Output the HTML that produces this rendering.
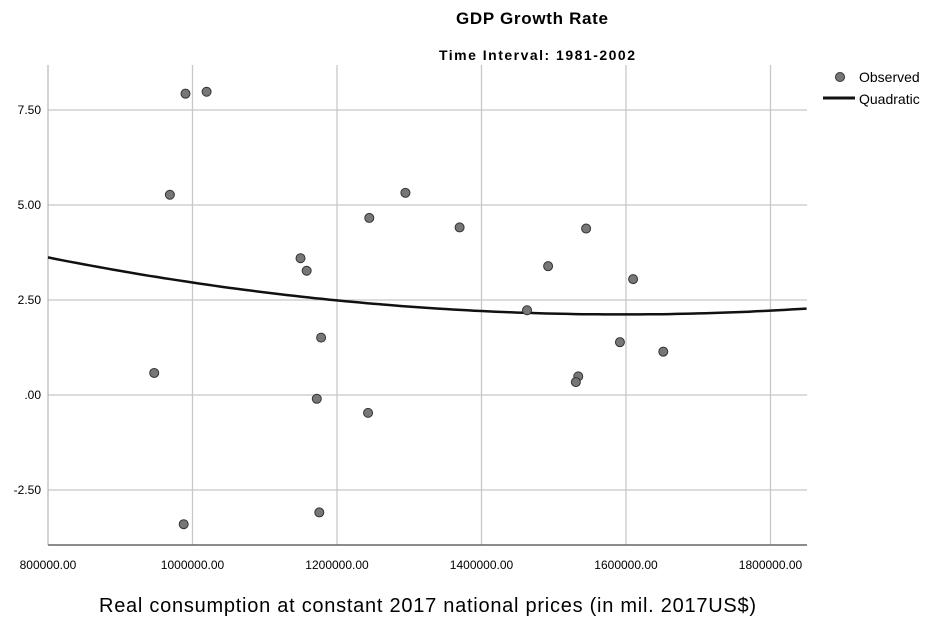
<!DOCTYPE html>
<html><head><meta charset="utf-8"><style>
body{margin:0;background:#fff;}
svg{display:block;font-family:"Liberation Sans",sans-serif;}
</style></head><body>
<svg id="chart" width="945" height="618">
<text x="532" y="24" text-anchor="middle" font-size="17" font-weight="bold" textLength="152">GDP Growth Rate</text>
<text x="537" y="60" text-anchor="middle" font-size="14" font-weight="bold" textLength="196">Time Interval: 1981-2002</text>
<g id="grid"></g><g id="curve"></g><g id="pts"></g><g id="ticks"></g>
<text x="99" y="612" font-size="20" textLength="657">Real consumption at constant 2017 national prices (in mil. 2017US$)</text>
<g>
<circle cx="840" cy="77" r="4.5" fill="#777" stroke="#333"/>
<text x="859" y="82" font-size="14">Observed</text>
<line x1="823" y1="98" x2="855" y2="98" stroke="#111" stroke-width="3"/>
<text x="859" y="104" font-size="14">Quadratic</text>
</g>
</svg>
<script>
const xVals=[990300,1019500,968700,1244700,1294700,1369700,1544800,1149500,1158000,1492200,1609800,1463000,1178000,1591600,1651600,947000,1533900,1530600,1172000,1243000,1175500,987800];
const yVals=[7.93,7.98,5.27,4.66,5.32,4.41,4.38,3.60,3.27,3.39,3.05,2.23,1.51,1.39,1.14,0.58,0.49,0.34,-0.10,-0.47,-3.09,-3.40];
const xTicks=[800000,1000000,1200000,1400000,1600000,1800000];
const yTicks=[-2.5,0,2.5,5,7.5];
const yTickLabels=["-2.50",".00","2.50","5.00","7.50"];
const quadCoef=[3.62,-0.3775,0.02375];
const L=48,R=807,T=65,B=545;
const sx=v=>L+(v-800000)/200000*144.5;
const sy=v=>395-v/2.5*95;
const NS="http://www.w3.org/2000/svg";
function mk(p,t,a){const e=document.createElementNS(NS,t);for(const k in a)e.setAttribute(k,a[k]);p.appendChild(e);return e;}
const grid=document.getElementById('grid'),ticks=document.getElementById('ticks');
xTicks.forEach((v,i)=>{
 if(i>0){const g=mk(grid,'line',{x1:sx(v),x2:sx(v),y1:T,y2:B,stroke:'#c8c8c8','stroke-width':1.3});
 
 }
 const t=mk(ticks,'text',{x:sx(v),y:569,'text-anchor':'middle','font-size':12});t.textContent=v.toFixed(2);
 
 
});
yTicks.forEach((v,i)=>{
 const g=mk(grid,'line',{x1:L,x2:R,y1:sy(v),y2:sy(v),stroke:'#c8c8c8','stroke-width':1.3});
 
 
 const t=mk(ticks,'text',{x:41,y:sy(v)+4,'text-anchor':'end','font-size':12});t.textContent=yTickLabels[i];
 
 
});
const ax=mk(grid,'line',{x1:L,x2:L,y1:T,y2:B,stroke:'#aaa','stroke-width':1});


const bx=mk(grid,'line',{x1:L,x2:R,y1:B,y2:B,stroke:'#666','stroke-width':1.5});


let d='';
for(let x=800000;x<=1850000;x+=10000){const u=(x-800000)/100000;const y=quadCoef[0]+quadCoef[1]*u+quadCoef[2]*u*u;d+=(d?'L':'M')+sx(x).toFixed(1)+','+sy(y).toFixed(1);}
const c=mk(document.getElementById('curve'),'path',{d:d,fill:'none',stroke:'#111','stroke-width':2.5});


const pts=document.getElementById('pts');
xVals.forEach((x,i)=>{
 const p=mk(pts,'circle',{cx:sx(x),cy:sy(yVals[i]),r:4.5,fill:'#777',stroke:'#333','stroke-width':1});
 
 
});
</script>
</body></html>
